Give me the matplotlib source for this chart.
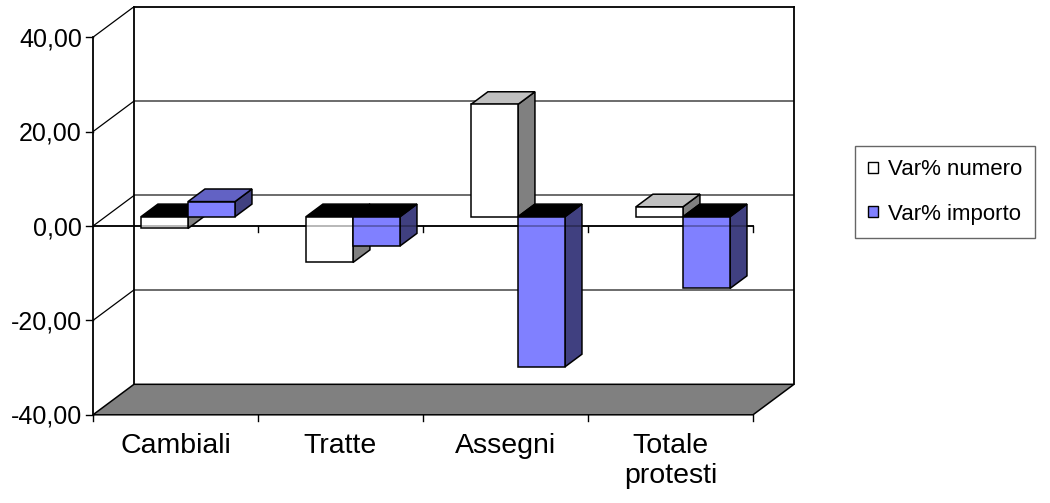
import matplotlib
matplotlib.use("Agg")
import matplotlib.pyplot as plt
from matplotlib.patches import Polygon, Patch

plt.rcParams['font.family'] = ['Liberation Sans', 'DejaVu Sans']

# dati
categorie = ["Cambiali", "Tratte", "Assegni", "Totale\nprotesti"]
var_numero = [-2.5, -9.7, 23.8, 2.1]
var_importo = [3.2, -6.2, -31.8, -15.2]
serie = ["Var% numero", "Var% importo"]
y_ticks = [-40, -20, 0, 20, 40]
y_labels = ["-40,00", "-20,00", "0,00", "20,00", "40,00"]

# colori (fronte, cima positiva, lato)
BIANCO = ("#FFFFFF", "#C0C0C0", "#808080")
BLU = ("#8080FF", "#6262C4", "#404080")

# prospettiva obliqua: spostamento in profondita'
OX = 41 / 165.0        # unita' categoria
OY = 30.5 / 4.72       # unita' valore
D0, D1 = 0.305, 0.718  # profondita' delle barre
W = 0.285              # larghezza barra

YMIN, YMAX = -40, 40


def proj(x, y, d):
    return (x + d * OX, y + d * OY)


def faccia(ax, pts, colore, z):
    ax.add_patch(Polygon(pts, closed=True, facecolor=colore, edgecolor="black",
                         linewidth=1.1, joinstyle="miter", zorder=z))


def barra3d(ax, x0, x1, v, colori, z):
    lo, hi = min(0, v), max(0, v)
    fronte, cima, lato = colori
    if v < 0:
        cima = "#000000"
    faccia(ax, [proj(x1, lo, D0), proj(x1, hi, D0), proj(x1, hi, D1), proj(x1, lo, D1)], lato, z)
    faccia(ax, [proj(x0, hi, D0), proj(x1, hi, D0), proj(x1, hi, D1), proj(x0, hi, D1)], cima, z)
    faccia(ax, [proj(x0, lo, D0), proj(x1, lo, D0), proj(x1, hi, D0), proj(x0, hi, D0)], fronte, z)


fig = plt.figure(figsize=(10.5, 5.03), dpi=100)
n = len(categorie)
ax = fig.add_axes([93 / 1050, 88.2 / 503, (n + OX) * 165 / 1050, (YMAX + OY - YMIN) * 4.72 / 503])
ax.set_xlim(0, n + OX)
ax.set_ylim(YMIN, YMAX + OY)
ax.axis("off")

# pavimento
ax.add_patch(Polygon([proj(0, YMIN, 0), proj(n, YMIN, 0), proj(n, YMIN, 1), proj(0, YMIN, 1)],
                     closed=True, facecolor="#808080", edgecolor="black", linewidth=1.1,
                     zorder=1, clip_on=False))

# parete di fondo
for v in y_ticks[1:-1]:
    xs, ys = zip(proj(0, v, 1), proj(n, v, 1))
    ax.plot(xs, ys, color="#606060", lw=1.3, zorder=1)
for v in y_ticks[1:]:
    xs, ys = zip(proj(0, v, 0), proj(0, v, 1))
    ax.plot(xs, ys, color="black", lw=0.9, zorder=1)
for x in (0, n):
    xs, ys = zip(proj(x, YMIN, 1), proj(x, YMAX, 1))
    ax.plot(xs, ys, color="black", lw=1.3, zorder=1, clip_on=False)
xs, ys = zip(proj(0, YMAX, 1), proj(n, YMAX, 1))
ax.plot(xs, ys, color="black", lw=1.3, zorder=1, clip_on=False)

# linea dello zero e tacche
ax.plot([0, n], [0, 0], color="black", lw=1.3, zorder=2)
for i in range(1, n + 1):
    ax.plot([i, i], [0, -1.3], color="black", lw=1.0, zorder=2)

# barre
for i in range(n):
    c = i + 0.5
    barra3d(ax, c - W, c, var_numero[i], BIANCO, 3 + 2 * i)
    barra3d(ax, c, c + W, var_importo[i], BLU, 4 + 2 * i)

# zero in trasparenza sopra le barre
ax.plot([0, n], [0, 0], color="black", lw=1.3, alpha=0.3, zorder=20)

# asse verticale
ax.plot([0, 0], [YMIN, YMAX], color="black", lw=1.3, zorder=21, clip_on=False)
for v, lab in zip(y_ticks, y_labels):
    ax.plot([-0.042, 0], [v, v], color="black", lw=1.0, clip_on=False, zorder=21)
    ax.annotate(lab, (0, v), xytext=(-8, -1.5), textcoords="offset points",
                ha="right", va="center", fontsize=18, annotation_clip=False)

# asse delle categorie
for i in range(n + 1):
    ax.plot([i, i], [YMIN, YMIN - 1.3], color="black", lw=1.0, clip_on=False, zorder=21)
for i, lab in enumerate(categorie):
    ax.annotate(lab, (i + 0.5, YMIN), xytext=(0, -13), textcoords="offset points",
                ha="center", va="top", fontsize=20.5, linespacing=1.22, annotation_clip=False)

# legenda
maniglie = [Patch(facecolor="white", edgecolor="black", linewidth=1.0, label=serie[0]),
            Patch(facecolor="#8080FF", edgecolor="black", linewidth=1.0, label=serie[1])]
leg = fig.legend(handles=maniglie, loc="center left", bbox_to_anchor=(855 / 1050, 1 - 192 / 503),
                 fontsize=16, frameon=True, fancybox=False, handlelength=0.42,
                 handleheight=0.42, handletextpad=0.45, labelspacing=1.05, borderpad=0.6,
                 borderaxespad=0)
leg.get_frame().set_edgecolor("#404040")
leg.get_frame().set_linewidth(1.0)

fig.savefig("out.png", dpi=100)
